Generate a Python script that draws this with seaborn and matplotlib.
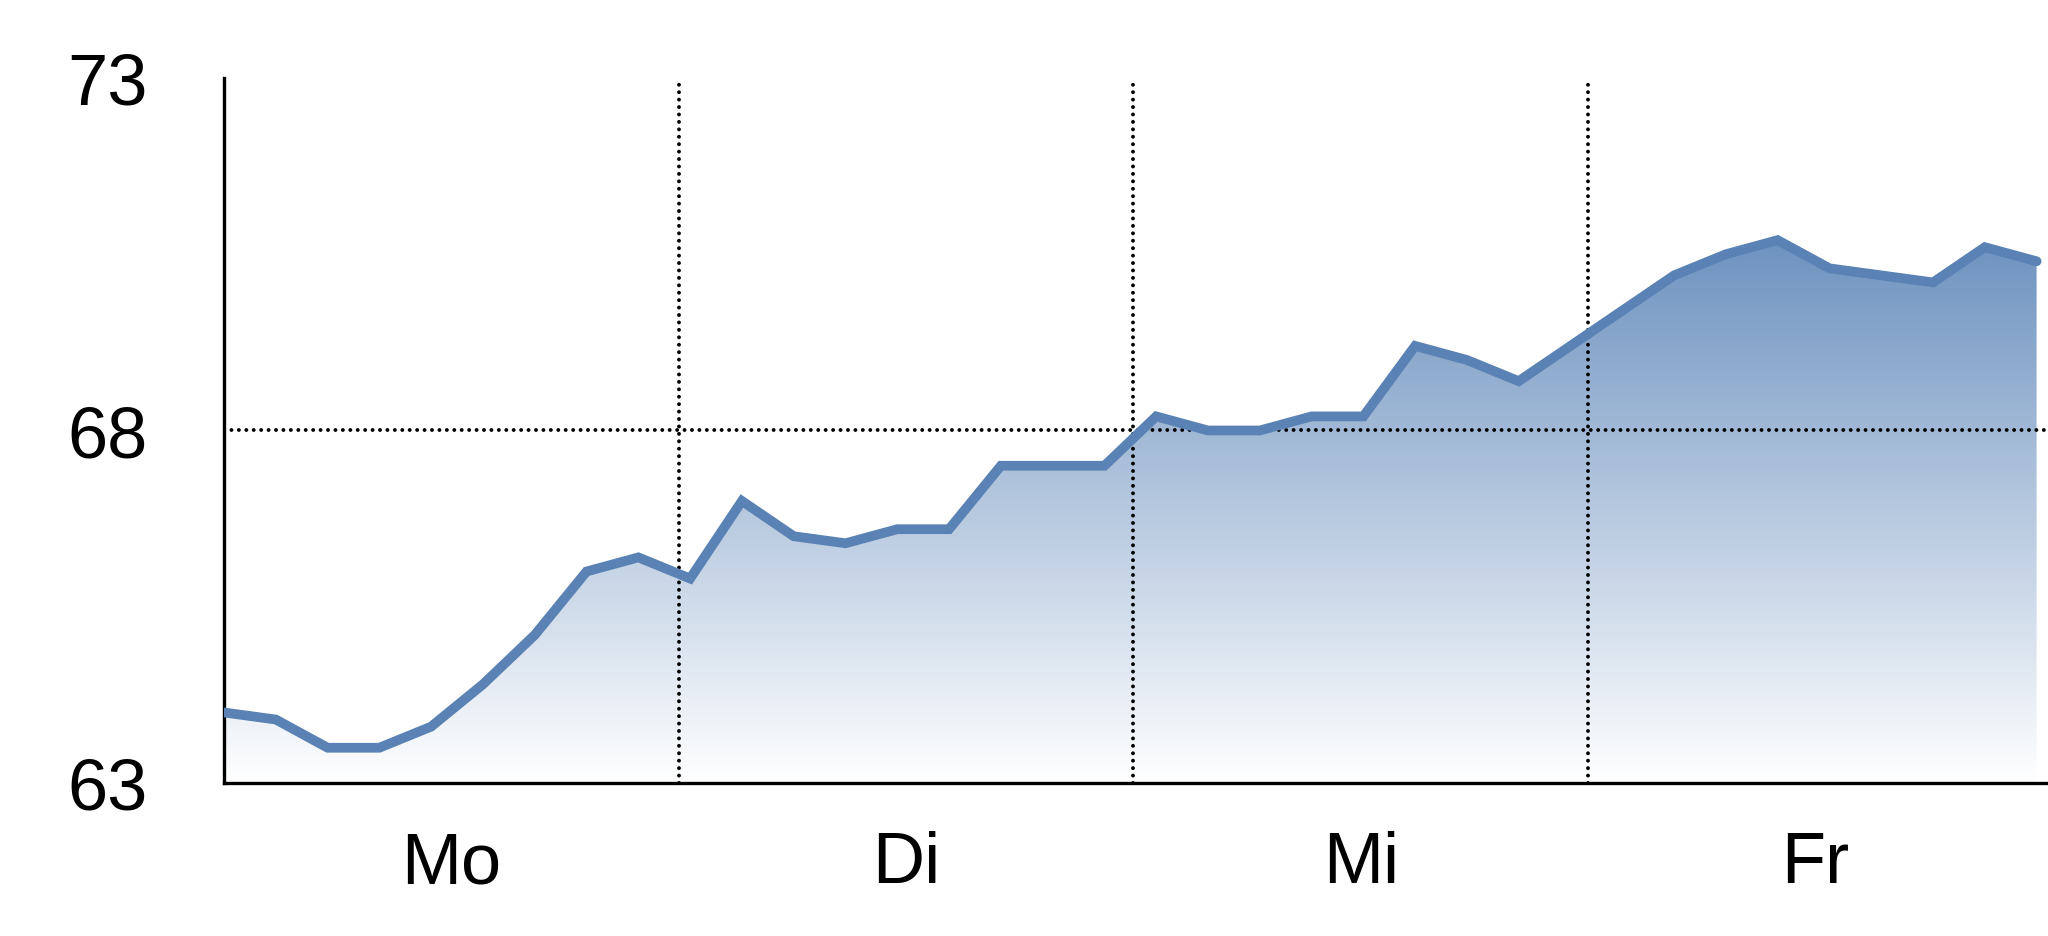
import numpy as np
import pandas as pd
import matplotlib
matplotlib.use("Agg")
import matplotlib.pyplot as plt
import seaborn as sns
from matplotlib.colors import LinearSegmentedColormap


# values, nine readings per day
values = [
    64.0, 63.9, 63.5, 63.5, 63.8, 64.4, 65.1, 66.0, 66.2,
    65.9, 67.0, 66.5, 66.4, 66.6, 66.6, 67.5, 67.5, 67.5,
    68.2, 68.0, 68.0, 68.2, 68.2, 69.2, 69.0, 68.7, 69.2,
    69.7, 70.2, 70.5, 70.7, 70.3, 70.2, 70.1, 70.6, 70.4,
]
days = ["Mo", "Di", "Mi", "Fr"]
y_ticks = [63, 68, 73]

day_len = 8.78
df = pd.DataFrame({"x": np.arange(len(values)), "value": values})

sns.set_style("white")
plt.rcParams["font.family"] = ["Liberation Sans Narrow", "Liberation Sans", "DejaVu Sans"]
plt.rcParams["text.color"] = "black"
plt.rcParams["xtick.color"] = "black"
plt.rcParams["ytick.color"] = "black"

fig = plt.figure(figsize=(20.48, 9.37), dpi=100)
ax = fig.add_axes([0.1094, 0.1633, 0.8906, 0.7524])

line_color = "#5a82b4"
x_max = 4 * day_len

# gradient fill under the line
cmap = LinearSegmentedColormap.from_list("fade", ["#ffffff", "#6e93c0"])
grad = np.linspace(0, 1, 256).reshape(-1, 1)
im = ax.imshow(grad, cmap=cmap, aspect="auto", origin="lower",
               extent=[0, x_max, 63, max(values)], zorder=1)
poly = ax.fill_between(df["x"], values, 63, color="none", lw=0)
clip = poly.get_paths()[0]
im.set_clip_path(clip, transform=ax.transData)

sns.lineplot(data=df, x="x", y="value", ax=ax, color=line_color,
             linewidth=7, zorder=3, solid_joinstyle="miter",
             solid_capstyle="round")

# dotted guides with round dots
dots = dict(color="black", lw=2.8, ls=(0, (0.01, 1.9)),
            dash_capstyle="round", zorder=2)
for i in range(1, 4):
    ax.axvline(i * day_len, **dots)
ax.axhline(68, **dots)

ax.set_xlim(0, x_max + 0.1)
ax.set_ylim(63, 73)
ax.set_yticks(y_ticks)
ax.set_yticklabels([str(t) for t in y_ticks])
ax.set_xticks([(i + 0.5) * day_len for i in range(4)])
ax.set_xticklabels(days)
ax.tick_params(axis="y", length=0, pad=55, labelsize=52, labelcolor="black")
ax.tick_params(axis="x", length=0, pad=34, labelsize=52, labelcolor="black")
ax.set_xlabel("")
ax.set_ylabel("")

sns.despine(ax=ax, top=True, right=True)
for side in ["left", "bottom"]:
    ax.spines[side].set_color("black")
    ax.spines[side].set_linewidth(2.4)

fig.savefig("out.png", dpi=100)
plt.close(fig)
